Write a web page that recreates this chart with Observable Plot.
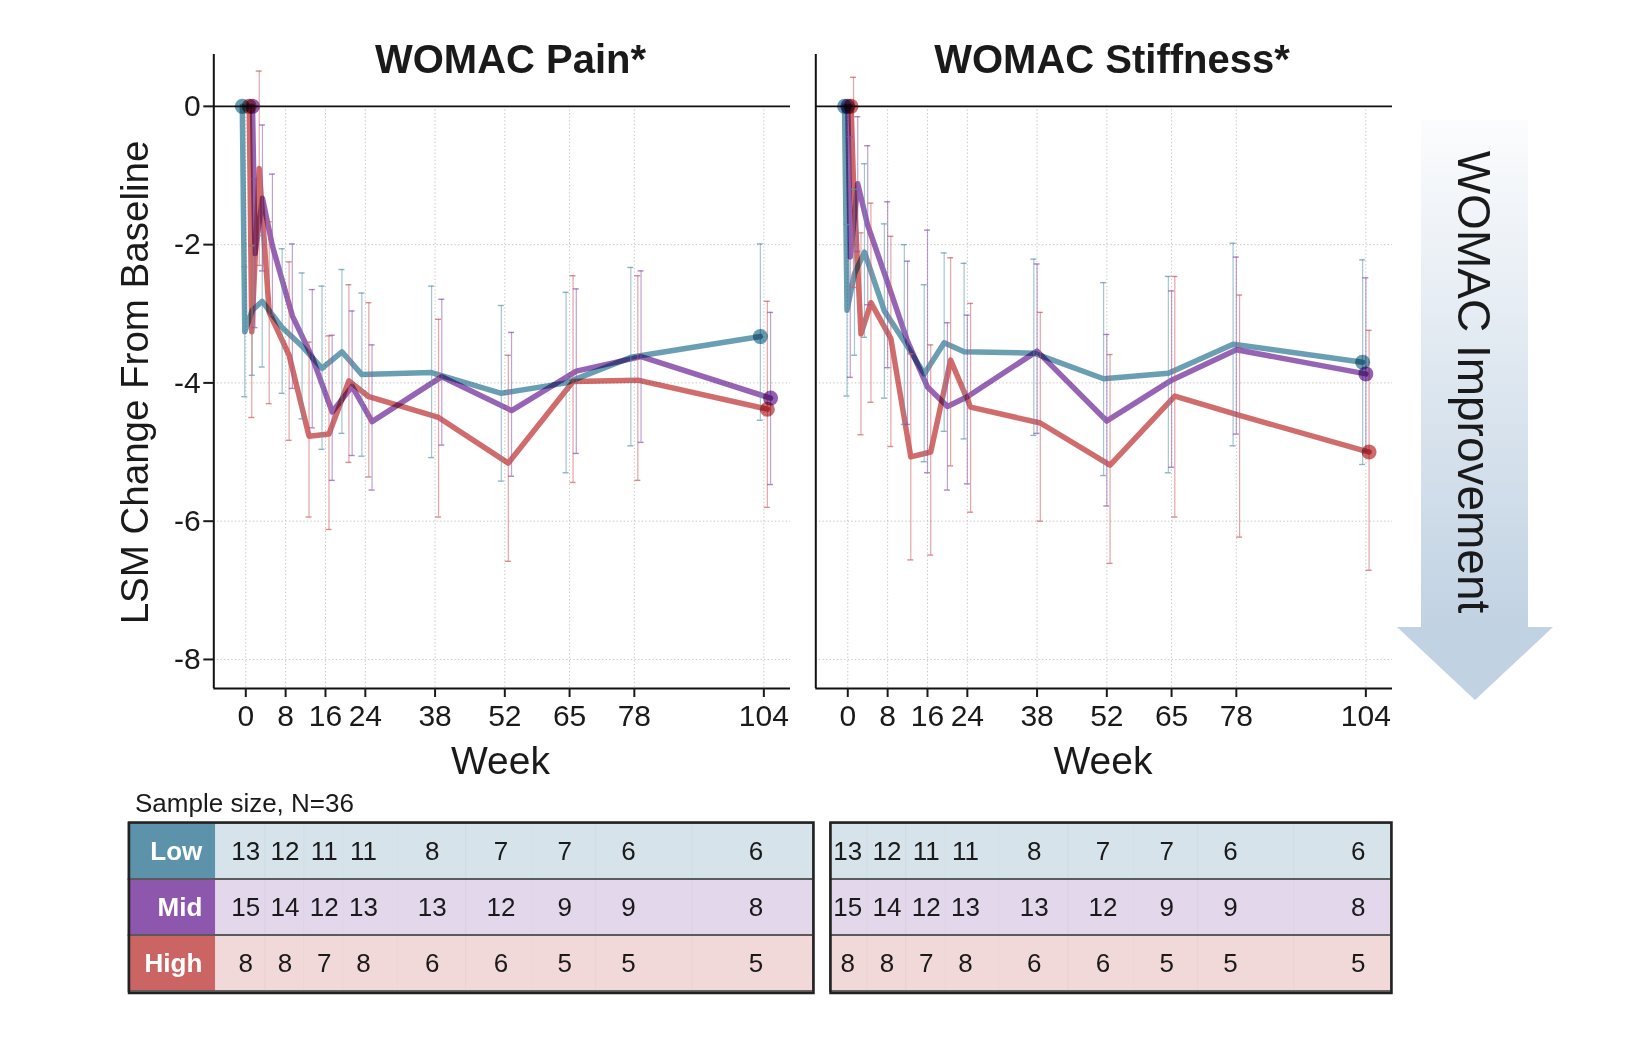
<!DOCTYPE html>
<html>
<head>
<meta charset="utf-8">
<script src="https://cdn.jsdelivr.net/npm/d3@7"></script>
<script src="https://cdn.jsdelivr.net/npm/@observablehq/plot@0.6"></script>
<style>
  body { margin: 0; background: #fff; }
  #c { position: relative; width: 1652px; height: 1053px; font-family: "Liberation Sans", Arial, Helvetica, sans-serif; color: #1a1a1a; }
  #c > svg { position: absolute; left: 0; top: 0; max-width: none; }
</style>
</head>
<body>
<div id="c"></div>
<script>
// ---------------- DATA ----------------
const weeks = [0, 0.5, 2, 4, 8, 12, 16, 20, 24, 38, 52, 65, 78, 104];
const groups = ["Low", "Mid", "High"];
const xTicks = [0, 8, 16, 24, 38, 52, 65, 78, 104];
const yTicks = [0, -2, -4, -6, -8];

// WOMAC Pain
const painLowMean  = [0, -3.26, -2.95, -2.82, -3.20, -3.47, -3.79, -3.55, -3.88, -3.85, -4.15, -4.00, -3.63, -3.33];
const painLowLo    = [null, -4.20, -3.89, -3.77, -4.15, -4.52, -4.96, -4.73, -5.06, -5.08, -5.42, -5.30, -4.91, -4.54];
const painLowHi    = [null, -2.32, -2.01, -1.87, -2.06, -2.41, -2.60, -2.36, -2.70, -2.60, -2.88, -2.69, -2.33, -1.99];
const painMidMean  = [0, -2.13, -1.33, -2.02, -3.03, -3.63, -4.42, -4.05, -4.56, -3.91, -4.40, -3.83, -3.62, -4.22];
const painMidLo    = [null, -3.20, -2.38, -3.02, -4.08, -4.65, -5.41, -5.05, -5.55, -4.90, -5.35, -5.02, -4.86, -5.47];
const painMidHi    = [null, -1.05, -0.27, -0.98, -1.99, -2.65, -3.31, -2.96, -3.45, -2.79, -3.27, -2.64, -2.38, -2.98];
const painHighMean = [0, -3.26, -0.90, -2.98, -3.60, -4.77, -4.74, -3.97, -4.20, -4.50, -5.16, -3.98, -3.96, -4.38];
const painHighLo   = [null, -4.50, -2.30, -4.30, -4.83, -5.94, -6.12, -5.15, -5.36, -5.94, -6.58, -5.44, -5.41, -5.80];
const painHighHi   = [null, -2.02, 0.51, -1.67, -2.25, -3.41, -3.32, -2.58, -2.84, -3.08, -3.60, -2.45, -2.45, -2.82];

// WOMAC Stiffness
const stiffLowMean  = [0, -2.95, -2.42, -2.11, -2.96, -3.40, -3.87, -3.42, -3.55, -3.57, -3.94, -3.86, -3.44, -3.70];
const stiffLowLo    = [null, -4.19, -3.60, -3.34, -4.22, -4.60, -5.14, -4.70, -4.81, -4.76, -5.34, -5.30, -4.91, -5.18];
const stiffLowHi    = [null, -1.71, -1.20, -0.83, -1.70, -2.00, -2.58, -2.12, -2.27, -2.21, -2.55, -2.46, -1.98, -2.22];
const stiffMidMean  = [0, -2.18, -1.12, -1.72, -2.55, -3.40, -4.06, -4.34, -4.20, -3.54, -4.55, -3.96, -3.52, -3.87];
const stiffMidLo    = [null, -3.92, -2.10, -2.87, -3.78, -4.60, -5.30, -5.55, -5.46, -4.73, -5.78, -5.22, -4.74, -4.98];
const stiffMidHi    = [null, -0.44, -0.15, -0.57, -1.38, -2.24, -1.79, -3.13, -3.02, -2.28, -3.30, -2.67, -2.18, -2.48];
const stiffHighMean = [0, -1.10, -3.29, -2.84, -3.36, -5.07, -5.00, -3.67, -4.35, -4.58, -5.19, -4.19, -4.47, -5.00];
const stiffHighLo   = [null, -2.62, -4.75, -4.28, -4.92, -6.56, -6.49, -5.20, -5.87, -6.00, -6.61, -5.94, -6.23, -6.71];
const stiffHighHi   = [null, 0.42, -1.83, -1.40, -1.88, -3.58, -3.45, -2.19, -2.85, -2.98, -3.59, -2.46, -2.73, -3.24];

// Sample size table
const tableWeeks = [0, 8, 16, 24, 38, 52, 65, 78, 104];
const nLow  = [13, 12, 11, 11, 8, 7, 7, 6, 6];
const nMid  = [15, 14, 12, 13, 13, 12, 9, 9, 8];
const nHigh = [8, 8, 7, 8, 6, 6, 5, 5, 5];

// ---------------- STYLE / LAYOUT ----------------
const FONT = '"Liberation Sans", Arial, Helvetica, sans-serif';
const W = 1652;
const groupColors = ["#5a95ab", "#8c53ad", "#cc5c5c"];
const rowFill = {Low: "#d6e3ea", Mid: "#e3d7eb", High: "#f1d9da"};
const labelFill = {Low: "#5c93aa", Mid: "#8d57ad", High: "#cb6564"};
const painOffsets = {Low: -0.7, Mid: 1.35, High: 0.7};
const stiffOffsets = {Low: -0.65, Mid: 0, High: 0.65};
const xDomain = [-6.42, 109.35];
const yDomain = [-8.42, 0.75];
const capHalf = 0.6;
const panelH = 780, panelTop = 54, panelBottom = 688;

const series = {
  pain: {
    Low: {mean: painLowMean, lo: painLowLo, hi: painLowHi},
    Mid: {mean: painMidMean, lo: painMidLo, hi: painMidHi},
    High: {mean: painHighMean, lo: painHighLo, hi: painHighHi}
  },
  stiff: {
    Low: {mean: stiffLowMean, lo: stiffLowLo, hi: stiffLowHi},
    Mid: {mean: stiffMidMean, lo: stiffMidLo, hi: stiffMidHi},
    High: {mean: stiffHighMean, lo: stiffHighLo, hi: stiffHighHi}
  }
};
const counts = {Low: nLow, Mid: nMid, High: nHigh};

const grid = {stroke: "#c4c4c4", strokeWidth: 1, strokeDasharray: "1.3,2.3"};

function panelPlot(s, offsets, frame, showY) {
  const rows = groups.flatMap(g => weeks.map((w, i) => ({
    group: g, x: w + offsets[g], mean: s[g].mean[i], lo: s[g].lo[i], hi: s[g].hi[i], i
  })));
  const ci = rows.filter(d => d.lo != null);
  const last = weeks.length - 1;
  const ends = rows.filter(d => d.i === 0 || d.i === last);
  const marks = [
    Plot.ruleY(yTicks.filter(t => t !== 0), grid),
    Plot.ruleX(xTicks, {...grid, y1: 0, y2: yDomain[0]}),
    Plot.ruleY([0], {stroke: "#111", strokeWidth: 1.6}),
    Plot.ruleX([xDomain[0]], {stroke: "#111", strokeWidth: 2}),
    Plot.ruleY([yDomain[0]], {stroke: "#111", strokeWidth: 2}),
    Plot.axisX({ticks: xTicks, tickSize: 9, tickPadding: 7, fontSize: 30, strokeWidth: 2, label: null, tickFormat: d => String(d)})
  ];
  if (showY) marks.push(Plot.axisY({ticks: yTicks, tickSize: 10, tickPadding: 3, fontSize: 30, strokeWidth: 2, label: null, tickFormat: d => String(d)}));
  for (const g of groups) {
    marks.push(Plot.line(rows.filter(d => d.group === g), {
      x: "x", y: "mean", stroke: "group", strokeWidth: 5.5, strokeOpacity: 0.9, mixBlendMode: "multiply"
    }));
  }
  marks.push(Plot.ruleX(ci, {x: "x", y1: "lo", y2: "hi", stroke: "group", strokeWidth: 1.2, strokeOpacity: 0.55}));
  marks.push(Plot.ruleY(ci, {y: "lo", x1: d => d.x - capHalf, x2: d => d.x + capHalf, stroke: "group", strokeWidth: 1.4, strokeOpacity: 0.7}));
  marks.push(Plot.ruleY(ci, {y: "hi", x1: d => d.x - capHalf, x2: d => d.x + capHalf, stroke: "group", strokeWidth: 1.4, strokeOpacity: 0.7}));
  for (const g of groups) {
    marks.push(Plot.dot(ends.filter(d => d.group === g), {
      x: "x", y: "mean", fill: "group", r: 7.5, fillOpacity: 0.92, mixBlendMode: "multiply"
    }));
  }
  return Plot.plot({
    width: W, height: panelH,
    marginLeft: frame[0], marginRight: W - frame[1],
    marginTop: panelTop, marginBottom: panelH - panelBottom,
    x: {domain: xDomain, axis: null, label: null},
    y: {domain: yDomain, axis: null, label: null},
    color: {domain: groups, range: groupColors},
    style: {fontFamily: FONT, background: "transparent", color: "#1a1a1a", overflow: "visible"},
    marks
  });
}

function tablePlot(frame, domain, dataStart, withLabels, labelTextX) {
  const cells = [];
  groups.forEach(g => tableWeeks.forEach((w, j) => {
    const x1 = j === 0 ? dataStart : (tableWeeks[j - 1] + w) / 2;
    const x2 = j === tableWeeks.length - 1 ? domain[1] : (w + tableWeeks[j + 1]) / 2;
    cells.push({group: g, week: w, n: counts[g][j], x1, x2});
  }));
  const marks = [
    Plot.barX(cells, {x1: "x1", x2: "x2", y: "group", fill: d => rowFill[d.group], stroke: "#000", strokeOpacity: 0.03, strokeWidth: 1})
  ];
  if (withLabels) marks.push(Plot.barX(groups, {x1: domain[0], x2: dataStart, y: d => d, fill: d => labelFill[d]}));
  marks.push(Plot.barX(groups, {x1: domain[0], x2: domain[1], y: d => d, fill: "none", stroke: "#5a5a5a", strokeWidth: 1.8}));
  marks.push(Plot.frame({stroke: "#222", strokeWidth: 2.5}));
  marks.push(Plot.text(cells, {x: "week", y: "group", text: d => String(d.n), fontSize: 26, fill: "#1a1a1a"}));
  if (withLabels) marks.push(Plot.text(groups, {x: labelTextX, y: d => d, text: d => d, textAnchor: "end", fill: "white", fontWeight: "bold", fontSize: 26}));
  const svg = Plot.plot({
    width: W, height: 200,
    marginLeft: frame[0], marginRight: W - frame[1],
    marginTop: 22, marginBottom: 7.5,
    x: {domain, axis: null},
    y: {domain: groups, padding: 0, axis: null},
    style: {fontFamily: FONT, background: "transparent", color: "#1a1a1a", overflow: "visible"},
    marks
  });
  svg.style.top = "800px";
  return svg;
}

const c = document.getElementById("c");

// decorations & titles (text)
c.insertAdjacentHTML("beforeend", `
<svg width="1652" height="1053" xmlns="http://www.w3.org/2000/svg" style="font-family:${FONT.replace(/"/g, "'")};fill:#1a1a1a">
  <defs>
    <linearGradient id="arrowGrad" gradientUnits="userSpaceOnUse" x1="0" y1="120" x2="0" y2="628">
      <stop offset="0" stop-color="#fbfcfd"/>
      <stop offset="1" stop-color="#c1d2e3"/>
    </linearGradient>
  </defs>
  <polygon points="1421,120 1528,120 1528,627 1553,627 1475,700 1397,627 1421,627" fill="url(#arrowGrad)"/>
  <text transform="translate(1458,382) rotate(90)" text-anchor="middle" font-size="46">WOMAC Improvement</text>
  <text x="510.5" y="73" text-anchor="middle" font-size="40" font-weight="bold">WOMAC Pain*</text>
  <text x="1112" y="73" text-anchor="middle" font-size="40" font-weight="bold">WOMAC Stiffness*</text>
  <text transform="translate(148,382.5) rotate(-90)" text-anchor="middle" font-size="38.5">LSM Change From Baseline</text>
  <text x="500.5" y="774" text-anchor="middle" font-size="39">Week</text>
  <text x="1103" y="774" text-anchor="middle" font-size="39">Week</text>
  <text x="135" y="812" font-size="26">Sample size, N=36</text>
</svg>`);

c.appendChild(panelPlot(series.pain, painOffsets, [213.3, 790], true));
c.appendChild(panelPlot(series.stiff, stiffOffsets, [815.3, 1392], false));
c.appendChild(tablePlot([128.5, 813], [-23.8, 115.7], -6.17, true, -8.86));
c.appendChild(tablePlot([830, 1391], [-3.5, 110.8], -3.5, false, 0));
</script>
</body>
</html>
